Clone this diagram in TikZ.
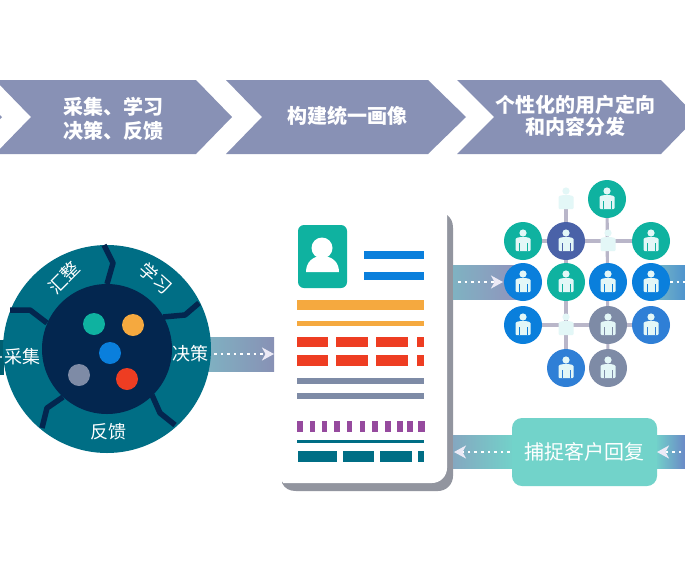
\documentclass[tikz,border=0pt]{standalone}
\usepackage{fontspec}
\usetikzlibrary{arrows.meta,backgrounds}
\newfontfamily\cjk{Noto Sans CJK SC}
\definecolor{chev}{HTML}{8891B5}
\definecolor{disc}{HTML}{006E85}
\definecolor{navy}{HTML}{03264F}
\definecolor{cteal}{HTML}{0FB2A0}
\definecolor{corange}{HTML}{F5A93F}
\definecolor{cblue}{HTML}{0A7FDC}
\definecolor{cgrey}{HTML}{7E8BA6}
\definecolor{cred}{HTML}{EE3D22}
\definecolor{cpurple}{HTML}{964A9E}
\definecolor{cshadow}{HTML}{92959F}
\definecolor{cindigo}{HTML}{4A62A8}
\definecolor{cmid}{HTML}{2F7FD6}
\definecolor{clink}{HTML}{B9B6C9}
\definecolor{cmint}{HTML}{72D3CA}
\definecolor{cpale}{HTML}{E3F7F7}
\definecolor{cbarA}{HTML}{7FB2C2}
\definecolor{cbarB}{HTML}{9290BC}
\definecolor{ctip}{HTML}{ECEAF6}
\tikzset{
  chevron/.style={fill=chev,draw=none},
  chevtext/.style={font=\cjk\bfseries\fontsize{20}{24}\selectfont,text=white,align=center,inner sep=0pt},
  disctext/.style={font=\cjk\fontsize{18}{20}\selectfont,text=white,inner sep=0pt},
  divider/.style={draw=navy,line width=5.5pt,line join=round},
  dot/.style={circle,inner sep=0pt,minimum size=22pt,fill=#1},
  ball/.style={circle,inner sep=0pt,minimum size=38pt,fill=#1},
  paleball/.style={circle,inner sep=0pt,minimum size=38pt},
  netlink/.style={draw=clink,line width=3.2pt},
  dotline/.style={draw=white,line width=2.6pt,dash pattern=on 2.6pt off 4pt},
  dotflow/.style={dotline,-{Stealth[length=12pt,width=13pt,inset=3.5pt,color=ctip]}},
}
\newcommand{\pers}[4]{%
  \node[ball=#4] (#1) at (#2,#3) {};
  \begin{scope}[shift={(#2,#3)}]
    \fill[cpale] (0,-8) circle (3.6);
    \fill[cpale,rounded corners=1pt] (-7.5,10) -- (-7.5,-1) .. controls (-7.5,-3) and (-5,-3.6) .. (-2,-4) -- (2,-4) .. controls (5,-3.6) and (7.5,-3) .. (7.5,-1) -- (7.5,10) -- cycle;
    \draw[#4,line width=.8pt] (-4,2) -- (-4,10) (4,2) -- (4,10);
  \end{scope}}
\newcommand{\palepers}[3]{%
  \node[paleball] (#1) at (#2,#3) {};
  \begin{scope}[shift={(#2,#3)}]
    \fill[cpale] (0,-8) circle (3.6);
    \fill[cpale,rounded corners=1pt] (-7.5,10) -- (-7.5,-1) .. controls (-7.5,-3) and (-5,-3.6) .. (-2,-4) -- (2,-4) .. controls (5,-3.6) and (7.5,-3) .. (7.5,-1) -- (7.5,10) -- cycle;
  \end{scope}}
\begin{document}
\begin{tikzpicture}[x=1pt,y=-1pt]
\useasboundingbox (0,0) rectangle (685,587);
\clip (0,0) rectangle (685,587);
% chevrons
\fill[chevron] (-40,80) -- (-35,80) -- (2,117) -- (-35,154) -- (-40,154) -- cycle;
\fill[chevron] (-5,80) -- (196,80) -- (232,117) -- (196,154) -- (-5,154) -- (31,117) -- cycle;
\fill[chevron] (226,80) -- (428,80) -- (466,117) -- (428,154) -- (226,154) -- (262,117) -- cycle;
\fill[chevron] (457,80) -- (661,80) -- (697,117) -- (661,154) -- (457,154) -- (494,117) -- cycle;
\node[chevtext] (c1) at (113,119) {采集、学习\\决策、反馈};
\node[chevtext] (c2) at (347,116) {构建统一画像};
\node[chevtext,font=\cjk\bfseries\fontsize{20}{22}\selectfont] (c3) at (575,116) {个性化的用户定向\\和内容分发};
% left stub
\fill[disc!85!black] (0,340) rectangle (4,375);
% bar from disc to card
\coordinate (b1a) at (214,354);
\coordinate (b1b) at (274,354);
\shade[left color=cbarA,right color=chev] (205,337) rectangle (274,371);
\draw[dotflow] (b1a) -- (b1b);
% disc
\node[circle,fill=disc,inner sep=0pt,minimum size=208pt] (disc) at (107,349) {};
\draw[divider] (104,245) -- (113,263) -- (107,284);
\draw[divider] (199,303) -- (185,315) -- (163,317);
\draw[divider] (175,425) -- (160,413) -- (152,395);
\draw[divider] (42,428) -- (47,408) -- (63,397);
\draw[divider] (10,310) -- (30,310) -- (47,323);
\node[circle,fill=navy,inner sep=0pt,minimum size=130pt] (core) at (107,349) {};
\node[dot=cteal] (d1) at (94,324) {};
\node[dot=corange] (d2) at (133,325) {};
\node[dot=cblue] (d3) at (110,353) {};
\node[dot=cgrey] (d4) at (79,375) {};
\node[dot=cred] (d5) at (127,379) {};
\node[disctext,rotate=45] (t1) at (64,278) {汇整};
\node[disctext,rotate=-42] (t2) at (156,278) {学习};
\node[disctext] (t3) at (23,357) {采集};
\node[disctext] (t4) at (190,354) {决策};
\node[disctext] (t5) at (108,432) {反馈};
\fill[white] (1,357) circle (1.2);
% card
\fill[cshadow] (447,215) .. controls (451,218) and (453,222) .. (453,228) -- (453,476) arc[start angle=0,end angle=90,radius=15] -- (296,491) .. controls (290,491) and (285,489) .. (282,483) -- cycle;
\fill[white] (283,213) -- (447,213) -- (447,468) arc[start angle=0,end angle=90,radius=15] -- (283,483) -- cycle;
% avatar
\fill[cteal,rounded corners=6pt] (298,225) rectangle (347,288);
\fill[white] (322,248) circle (10.5);
\fill[white] (306,272) .. controls (306,262) and (313,256) .. (322,256) .. controls (332,256) and (339,262) .. (339,272) -- cycle;
\fill[cblue] (364,251) rectangle (424,259);
\fill[cblue] (364,272) rectangle (424,280);
\fill[corange] (297,300) rectangle (424,310);
\fill[corange] (297,321) rectangle (424,326);
\foreach \ya/\yb in {337/347,355/366}{
  \foreach \xa/\xb in {297/328,336/368,376/408,417/424}{
    \fill[cred] (\xa,\ya) rectangle (\xb,\yb);
  }
}
\fill[cgrey] (297,378) rectangle (424,384);
\fill[cgrey] (297,393) rectangle (424,399);
\foreach \xa/\xb in {297.3/303.3,310/315,321.7/327.3,334.3/340,346.7/352.3,359.7/365,372.3/377.7,385/390.7,397.3/403.3,407.3/413.3,418.3/424.7}{
  \fill[cpurple] (\xa,421) rectangle (\xb,432);
}
\fill[disc] (297,440) rectangle (424,443);
\foreach \xa/\xb in {298/337,343/374,380/412,418/424}{
  \fill[disc] (\xa,451) rectangle (\xb,462);
}
% upper right bars
\shade[left color=cbarA,right color=cbarB] (453,265) rectangle (525,299);
\shade[left color=cbarA!70!cmint,right color=cmid!60!cbarA] (651,265) rectangle (685,299);
\coordinate (b2a) at (458,282);
\coordinate (b2b) at (503,282);
\draw[dotflow] (b2a) -- (b2b);
% network
\pers{n1}{607}{199}{cteal}
\palepers{p1}{566}{199}
\pers{n2}{523}{241}{cteal}
\pers{n3}{566}{241}{cindigo}
\palepers{p2}{608}{241}
\pers{n4}{651}{241}{cteal}
\pers{n5}{523}{282}{cblue}
\pers{n6}{566}{282}{cteal}
\pers{n7}{608}{282}{cblue}
\pers{n8}{651}{282}{cblue}
\pers{n9}{523}{325}{cblue}
\palepers{p3}{566}{325}
\pers{n10}{608}{325}{cgrey}
\pers{n11}{651}{325}{cmid}
\pers{n12}{566}{368}{cmid}
\pers{n13}{608}{368}{cgrey}
\coordinate (b2c) at (670,282);
\coordinate (b2d) at (690,282);
\draw[dotline] (b2c) -- (b2d);
\begin{scope}[on background layer]
  \fill[white] (0,0) rectangle (685,587);
  \draw[netlink] (p1.center) -- (n12.center);
  \draw[netlink] (n1.center) -- (n13.center);
  \draw[netlink] (n2.center) -- (n4.center);
  \draw[netlink] (n9.center) -- (n11.center);
\end{scope}
% reply box
\shade[left color=cbarA!70!cbarB,right color=cmint] (453,435) rectangle (515,468);
\shade[left color=cmint,right color=cmid!40!cbarB] (655,435) rectangle (685,468);
\node[rounded corners=10pt,fill=cmint,minimum width=145pt,minimum height=68pt,inner sep=0pt,text=white,font=\cjk\fontsize{20}{22}\selectfont] (reply) at (584.5,452) {捕捉客户回复};
\coordinate (b3a) at (510,452);
\coordinate (b3b) at (454,452);
\draw[dotflow] (b3a) -- (b3b);
\coordinate (b4a) at (688,452);
\coordinate (b4b) at (657,452);
\draw[dotflow] (b4a) -- (b4b);
\end{tikzpicture}
\end{document}
